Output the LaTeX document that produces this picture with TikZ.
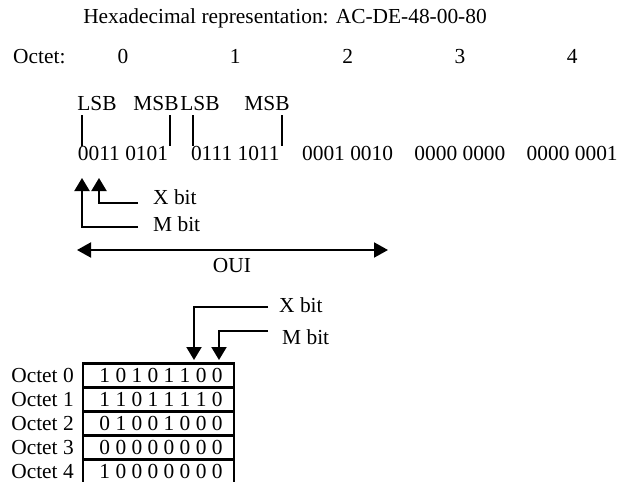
\documentclass[tikz,border=0pt]{standalone}
\usepackage{fontspec}
\setmainfont{Liberation Serif}
\usetikzlibrary{arrows.meta}

\begin{document}
\begin{tikzpicture}[x=1pt,y=-1pt,
  every node/.style={font=\fontsize{21.4}{24}\selectfont},
  lbl/.style={inner sep=0pt,anchor=base},
  lnk/.style={line width=2pt},
  tip/.style={-{Triangle[length=13pt,width=15pt]}},
  bothtip/.style={{Triangle[length=14pt,width=15pt]}-{Triangle[length=14pt,width=15pt]}},
  octrow/.style={draw,line width=2.2pt,minimum width=151pt,minimum height=24pt,inner sep=0pt}]
\useasboundingbox (0,0) rectangle (619,482);
\clip (0,0) rectangle (619,482);
% header
\node[lbl] (title) at (285,23) {Hexadecimal representation: AC-DE-48-00-80};
\node[lbl,anchor=base west] (octlbl) at (13,63) {Octet:};
\foreach \i in {0,...,4}
  \node[lbl] (oct\i) at ({123+112.3*\i},63) {\i};
% bit groups
\foreach \g [count=\i from 0] in {0011 0101,0111 1011,0001 0010,0000 0000,0000 0001}
  \node[lbl] (grp\i) at ({123+112.3*\i},160) {\g};
\node[lbl] (lsbA) at (97,110) {LSB};
\node[lbl] (msbA) at (156,110) {MSB};
\node[lbl] (lsbB) at (200,110) {LSB};
\node[lbl] (msbB) at (267,110) {MSB};
\coordinate (lA) at (82,115);
\coordinate (lB) at (170,115);
\coordinate (lC) at (193,115);
\coordinate (lD) at (282,115);
\draw[lnk] (lA) -- (lA |- grp0.north);
\draw[lnk] (lB) -- (lB |- grp0.north);
\draw[lnk] (lC) -- (lC |- grp1.north);
\draw[lnk] (lD) -- (lD |- grp1.north);
% X and M bit, first octet
\coordinate (xtipA) at (99,178);
\coordinate (mtipA) at (82,178);
\node[lbl,anchor=base west] (xbitA) at (153,204) {X bit};
\node[lbl,anchor=base west] (mbitA) at (153,231) {M bit};
\draw[lnk,tip] ([xshift=-15pt,yshift=1pt]xbitA.base west) -| (xtipA);
\draw[lnk,tip] ([xshift=-15pt,yshift=4pt]mbitA.base west) -| (mtipA);
% OUI
\coordinate (ouiL) at (77,250);
\coordinate (ouiR) at (388,250);
\draw[lnk,bothtip] (ouiL) -- (ouiR);
\node[lbl] (oui) at (232,272) {OUI};
% octet table
\foreach \b [count=\i from 0] in {1 0 1 0 1 1 0 0,1 1 0 1 1 1 1 0,0 1 0 0 1 0 0 0,0 0 0 0 0 0 0 0,1 0 0 0 0 0 0 0}{
  \node[octrow] (row\i) at (158.5,{375.5+24*\i}) {\hspace{5pt}\b};
  \node[anchor=east,inner sep=0pt] (olab\i) at ([xshift=-8pt]row\i.west) {Octet \i};
}
\coordinate (xtipB) at (194,360);
\coordinate (mtipB) at (219,360);
\node[lbl,anchor=base west] (xbitB) at (279,312) {X bit};
\node[lbl,anchor=base west] (mbitB) at (282,344) {M bit};
\draw[lnk,tip] ([xshift=-11pt,yshift=5pt]xbitB.base west) -| (xtipB);
\draw[lnk,tip] ([xshift=-14pt,yshift=13pt]mbitB.base west) -| (mtipB);
\end{tikzpicture}
\end{document}
